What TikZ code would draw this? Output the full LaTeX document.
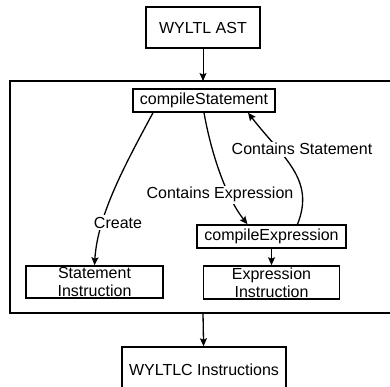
\documentclass[tikz,border=0pt]{standalone}
\usepackage{fontspec}
\setmainfont{Liberation Sans}
\usetikzlibrary{arrows.meta}

\begin{document}
\begin{tikzpicture}[x=1pt,y=-1pt]
\tikzstyle{every node}=[inner sep=0pt, font=\fontsize{16}{18}\selectfont]
\tikzstyle{box}=[draw, line width=1.5pt, align=center]
\tikzstyle{lbl}=[fill=white, inner sep=1.5pt, anchor=base]
\tikzstyle{arr}=[-{Stealth[length=8pt,width=7pt,inset=1.5pt]}, line width=1.3pt]
\useasboundingbox (0,0) rectangle (390,387);
\clip (0,0) rectangle (390,387);
% outer frame
\draw[line width=2pt] (10,81) rectangle (400,313);
\coordinate (ftop) at (203,81);
\coordinate (fbot) at (203,313);
\draw (203,27.5) node (ast) [box, minimum width=114pt, minimum height=41pt] {WYLTL AST};
\draw (204,100.5) node (cs) [box, minimum width=142pt, minimum height=23pt] {compileStatement};
\draw (271.5,236.5) node (ce) [box, minimum width=149pt, minimum height=23pt] {compileExpression};
\draw (94.5,282) node (si) [box, minimum width=137pt, minimum height=32pt] {Statement\\Instruction};
\draw (271.5,282.5) node (ei) [box, minimum width=136pt, minimum height=33pt] {Expression\\Instruction};
\draw (204,370) node (out) [box, minimum width=164pt, minimum height=46pt] {WYLTLC Instructions};
\draw[arr, line width=.9pt] (ast) -- (ftop);
\draw[arr] (fbot) -- (out);
\draw[arr] (ce) -- (ei);
\draw[arr] ([xshift=-51pt]cs.south) .. controls +(-28,52) and +(3,-50) .. (si.north);
\draw[arr] (cs.south) .. controls +(8,45) and +(-20,-25) .. ([xshift=-24pt]ce.north);
\draw[arr] ([xshift=26pt]ce.north) .. controls +(18,-45) and +(35,45) .. ([xshift=44pt]cs.south);
% labels
\draw (118,228) node (lcreate) [lbl] {Create};
\draw (220,199) node (lexpr) [lbl] {Contains Expression};
\draw (302,155) node (lstmt) [lbl] {Contains Statement};
\end{tikzpicture}
\end{document}
